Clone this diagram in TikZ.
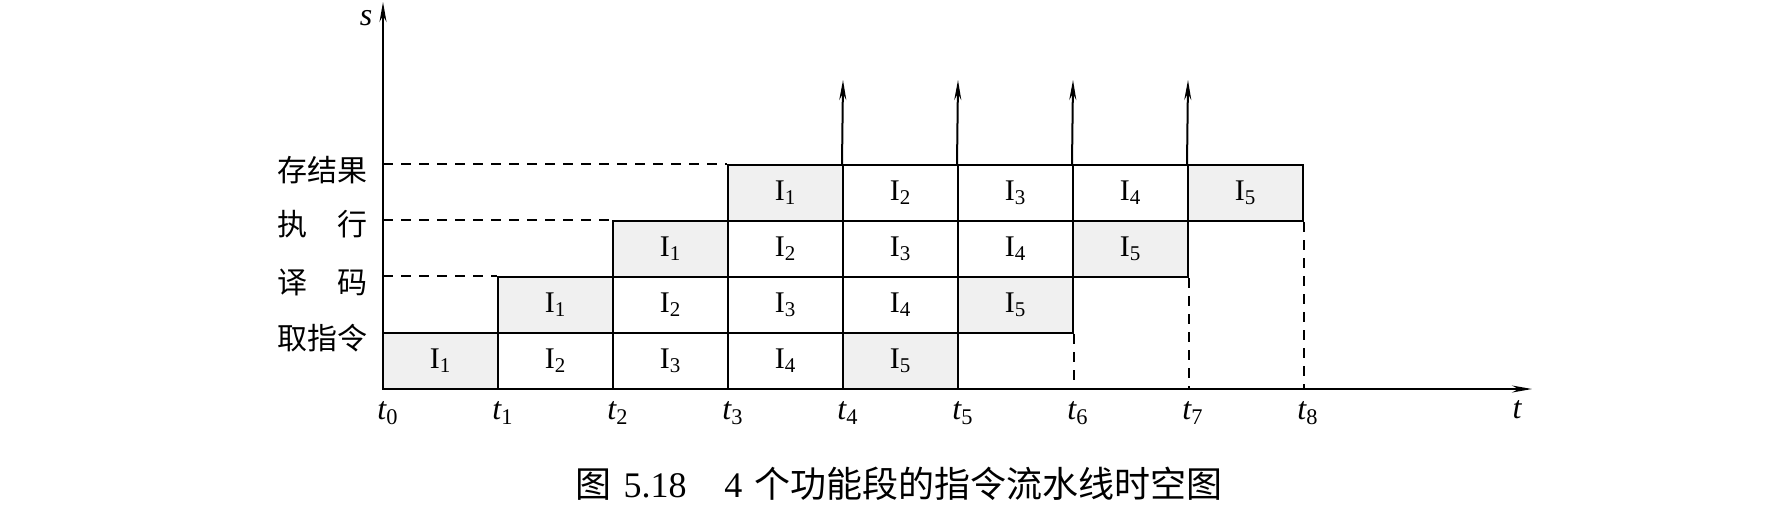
\documentclass[tikz,border=0pt]{standalone}
\usepackage{fontspec}
\setmainfont{Liberation Serif}
\newfontfamily\cjk{Noto Sans CJK SC}
\usetikzlibrary{positioning,arrows.meta}

\begin{document}
\begin{tikzpicture}[x=0.5pt,y=-0.5pt,node distance=57.5pt]
            \tikzset{Cell/.style={%
                    shape=rectangle,%
                    draw=black,%
                    line width=1pt,%
                    minimum width=57.5pt,%
                    minimum height=28pt,%
                    inner sep=0pt,%
                    font=\fontsize{15}{15}\selectfont,%
                    node distance=57.5pt,%
                },
                Busy/.style={Cell,fill=gray!12},
                Stage/.style={anchor=east,inner sep=0pt,font=\fontsize{15}{15}\cjk},
                Tick/.style={inner sep=0pt,font=\fontsize{16}{16}\selectfont\itshape},
                Up/.style={-{Stealth[length=10pt,width=3.5pt]},line width=1pt},
                Guide/.style={line width=1pt,dash pattern=on 5pt off 4pt}}

                \useasboundingbox (0,0) rectangle (1781,505);

                % fetch row
                \node[Busy] (f1) at (440.5,361) {I\textsubscript{1}};
                \node[Cell, right of=f1] (f2) {I\textsubscript{2}};
                \node[Cell, right of=f2] (f3) {I\textsubscript{3}};
                \node[Cell, right of=f3] (f4) {I\textsubscript{4}};
                \node[Busy, right of=f4] (f5) {I\textsubscript{5}};
                % decode row
                \node[Busy] (d1) at (555.5,305) {I\textsubscript{1}};
                \node[Cell, right of=d1] (d2) {I\textsubscript{2}};
                \node[Cell, right of=d2] (d3) {I\textsubscript{3}};
                \node[Cell, right of=d3] (d4) {I\textsubscript{4}};
                \node[Busy, right of=d4] (d5) {I\textsubscript{5}};
                % execute row
                \node[Busy] (e1) at (670.5,249) {I\textsubscript{1}};
                \node[Cell, right of=e1] (e2) {I\textsubscript{2}};
                \node[Cell, right of=e2] (e3) {I\textsubscript{3}};
                \node[Cell, right of=e3] (e4) {I\textsubscript{4}};
                \node[Busy, right of=e4] (e5) {I\textsubscript{5}};
                % store row
                \node[Busy] (s1) at (785.5,193) {I\textsubscript{1}};
                \node[Cell, right of=s1] (s2) {I\textsubscript{2}};
                \node[Cell, right of=s2] (s3) {I\textsubscript{3}};
                \node[Cell, right of=s3] (s4) {I\textsubscript{4}};
                \node[Busy, right of=s4] (s5) {I\textsubscript{5}};

                % axes
                \coordinate (O) at (383,389);
                \coordinate (sEnd) at (383,2);
                \coordinate (tEnd) at (1532,389);
                \draw[Up] (O) -- (sEnd);
                \draw[Up] (O) -- (tEnd);
                \node[Tick] (s) at (366,18) {s};
                \node[Tick] (t) at (1517,410) {t};

                \node[Tick] (t0) at (388,413) {t\textsubscript{\upshape 0}};
                \node[Tick] (t1) at (503,413) {t\textsubscript{\upshape 1}};
                \node[Tick] (t2) at (618,413) {t\textsubscript{\upshape 2}};
                \node[Tick] (t3) at (733,413) {t\textsubscript{\upshape 3}};
                \node[Tick] (t4) at (848,413) {t\textsubscript{\upshape 4}};
                \node[Tick] (t5) at (963,413) {t\textsubscript{\upshape 5}};
                \node[Tick] (t6) at (1078,413) {t\textsubscript{\upshape 6}};
                \node[Tick] (t7) at (1193,413) {t\textsubscript{\upshape 7}};
                \node[Tick] (t8) at (1308,413) {t\textsubscript{\upshape 8}};

                % stage names
                \node[Stage] (store) at (368,170) {存结果};
                \node[Stage] (exec) at (368,224) {\makebox[45pt][s]{执\hfill 行}};
                \node[Stage] (decode) at (368,282) {\makebox[45pt][s]{译\hfill 码}};
                \node[Stage] (fetch) at (368,338) {取指令};

                % guide lines
                \draw[Guide] (O |- s1.north west) -- (s1.north west);
                \draw[Guide] (O |- e1.north west) -- (e1.north west);
                \draw[Guide] (O |- d1.north west) -- (d1.north west);
                \draw[Guide] (d5.south east) -- (d5.south east |- O);
                \draw[Guide] (e5.south east) -- (e5.south east |- O);
                \draw[Guide] (s5.south east) -- (s5.south east |- O);

                % arrows up
                \coordinate (u4) at (843,80);
                \coordinate (u5) at (958,80);
                \coordinate (u6) at (1073,80);
                \coordinate (u7) at (1188,80);
                \draw[Up] (s2.north west) -- (u4);
                \draw[Up] (s3.north west) -- (u5);
                \draw[Up] (s4.north west) -- (u6);
                \draw[Up] (s5.north west) -- (u7);

                \node[font=\fontsize{18}{18}\selectfont] (cap) at (899,484)
                    {{\cjk 图}\hspace{6pt}5.18\hspace{19pt}4\hspace{6pt}{\cjk 个功能段的指令流水线时空图}};
        \end{tikzpicture}
\end{document}
